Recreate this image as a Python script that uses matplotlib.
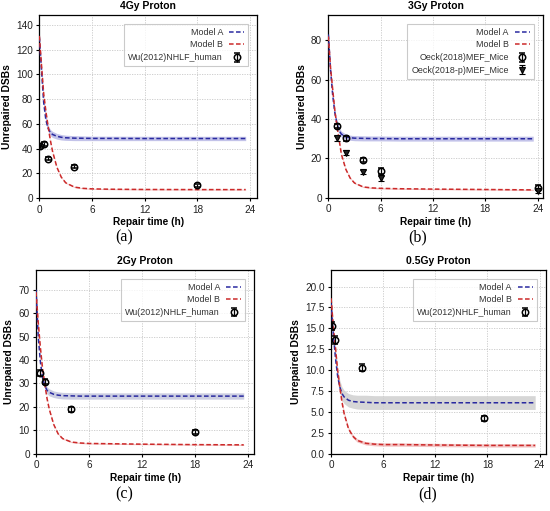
import matplotlib
matplotlib.use("Agg")
import matplotlib.pyplot as plt
from matplotlib.ticker import FormatStrFormatter

plt.rcParams['font.family'] = ['Liberation Sans', 'DejaVu Sans']

# ---- data ----
t_model = [0, 0.25, 0.5, 0.75, 1, 1.25, 1.5, 2, 2.5, 3, 4, 5, 6, 8, 12, 18, 23.5]

# panel a: 4Gy
a_A = [130, 103, 77, 63, 56.5, 53, 51.5, 50, 49.2, 48.8, 48.5, 48.4, 48.3, 48.3, 48.2, 48.2, 48.2]
a_A_lo = [128, 100, 74, 60, 54, 50.5, 49, 47.7, 47.0, 46.7, 46.5, 46.5, 46.5, 46.5, 46.5, 46.5, 46.5]
a_A_hi = [132, 106, 80, 66, 59, 55.5, 54, 52.3, 51.4, 50.9, 50.5, 50.3, 50.1, 50.1, 50.0, 50.0, 50.0]
a_B = [131, 107, 84, 70, 58, 47, 38, 25, 17, 12.5, 9, 8, 7.6, 7.3, 7.1, 7.0, 7.0]
a_B_err = [1.0, 1.0, 1.0, 0.8, 0.8, 0.7, 0.6, 0.5, 0.5, 0.5, 0.4, 0.4, 0.4, 0.4, 0.4, 0.4, 0.4]
a_pts_t = [0.1, 0.5, 1, 4, 18]
a_pts_v = [42, 44, 32, 25.5, 10.5]
a_pts_e = [1.5, 1.5, 1.2, 1.2, 1.2]

# panel b: 3Gy
b_A = [83, 65, 52, 43, 37.5, 34, 32.3, 31, 30.5, 30.3, 30.2, 30.1, 30.1, 30.0, 30.0, 30.0, 30.0]
b_A_lo = [82, 63.5, 50.5, 41.5, 36, 32.5, 30.8, 29.6, 29.2, 29.0, 28.9, 28.9, 28.9, 28.8, 28.8, 28.8, 28.8]
b_A_hi = [84, 66.5, 53.5, 44.5, 39, 35.5, 33.8, 32.4, 31.8, 31.6, 31.5, 31.4, 31.4, 31.3, 31.3, 31.3, 31.3]
b_B = [82, 66, 55, 44, 36, 29, 22, 14.5, 10, 7.5, 5.5, 5.0, 4.8, 4.6, 4.4, 4.2, 4.0]
b_B_err = [0.8, 0.7, 0.6, 0.6, 0.5, 0.5, 0.5, 0.4, 0.4, 0.3, 0.3, 0.3, 0.3, 0.3, 0.3, 0.3, 0.3]
b_pts1_t = [1, 2, 4, 6, 24]
b_pts1_v = [36.5, 30.2, 19.2, 13.8, 5.1]
b_pts1_e = [1.2, 1.2, 1.2, 1.5, 1.2]
b_pts2_t = [1, 2, 4, 6, 24]
b_pts2_v = [30.2, 23.0, 13.2, 9.8, 3.6]
b_pts2_e = [1.2, 1.2, 1.0, 1.2, 1.2]

# panel c: 2Gy
c_A = [70, 50, 39, 32, 29, 27, 26.2, 25.4, 25.0, 24.8, 24.7, 24.6, 24.6, 24.6, 24.6, 24.6, 24.6]
c_A_lo = [69, 48.8, 37.7, 30.6, 27.5, 25.5, 24.7, 24.0, 23.6, 23.4, 23.3, 23.3, 23.3, 23.3, 23.3, 23.3, 23.3]
c_A_hi = [71, 51.2, 40.3, 33.4, 30.5, 28.5, 27.7, 26.8, 26.4, 26.2, 26.1, 26.0, 26.0, 26.0, 26.0, 26.0, 26.0]
c_B = [69, 56, 45, 36, 29.5, 23.5, 19, 12.5, 8.5, 6.5, 5.0, 4.6, 4.4, 4.3, 4.1, 3.9, 3.8]
c_B_err = [0.5, 0.5, 0.5, 0.4, 0.4, 0.4, 0.3, 0.3, 0.3, 0.3, 0.25, 0.25, 0.25, 0.25, 0.25, 0.25, 0.25]
c_pts_t = [0.5, 1, 4, 18]
c_pts_v = [34.4, 30.8, 19.0, 9.4]
c_pts_e = [1.2, 1.0, 1.0, 0.9]

# panel d: 0.5Gy
d_A = [18, 14.3, 11.5, 9.3, 8.0, 7.2, 6.8, 6.4, 6.25, 6.2, 6.15, 6.1, 6.1, 6.1, 6.1, 6.1, 6.1]
d_A_lo = [17.5, 13.6, 10.7, 8.5, 7.2, 6.4, 6.0, 5.6, 5.45, 5.35, 5.3, 5.3, 5.3, 5.3, 5.3, 5.3, 5.3]
d_A_hi = [18.5, 15.0, 12.3, 10.1, 8.8, 8.0, 7.6, 7.2, 7.05, 7.0, 7.0, 6.95, 6.95, 6.95, 6.95, 6.95, 6.95]
d_B = [18.6, 15.3, 12.7, 10.0, 8.0, 6.2, 4.8, 3.0, 2.1, 1.6, 1.25, 1.15, 1.1, 1.1, 1.05, 1.0, 1.0]
d_B_err = [0.3, 0.3, 0.3, 0.3, 0.25, 0.25, 0.25, 0.2, 0.2, 0.2, 0.2, 0.2, 0.2, 0.2, 0.2, 0.2, 0.2]
d_pts_t = [0.1, 0.5, 3.6, 17.6]
d_pts_v = [15.3, 13.6, 10.3, 4.25]
d_pts_e = [0.5, 0.5, 0.45, 0.3]

titles = ["4Gy Proton", "3Gy Proton", "2Gy Proton", "0.5Gy Proton"]
panel_letters = ["(a)", "(b)", "(c)", "(d)"]
xticks = [0, 6, 12, 18, 24]

# ---- style ----
BLUE = "#2a2aa0"
RED = "#cc2a2a"
A_BAND = ["#b9b9e6", "#b9b9e6", "#c4c6dc", "#cfcfcf"]
B_BAND = "#f0b6b6"

fig = plt.figure(figsize=(5.5, 5.11), dpi=100)
positions = [
    [0.0715, 0.612, 0.396, 0.359],
    [0.597, 0.613, 0.390, 0.358],
    [0.0655, 0.112, 0.397, 0.360],
    [0.602, 0.112, 0.390, 0.360],
]
ylims = [(0, 148), (0, 93), (0, 78.5), (0, 22.0)]
yticks = [list(range(0, 141, 20)), list(range(0, 81, 20)), list(range(0, 71, 10)),
          [0, 2.5, 5, 7.5, 10, 12.5, 15, 17.5, 20]]
xmax = [24.8, 24.6, 24.7, 24.7]
label_pos = [(0.225, 0.535), (0.76, 0.535), (0.225, 0.033), (0.778, 0.033)]

A_list = [a_A, b_A, c_A, d_A]
Alo_list = [a_A_lo, b_A_lo, c_A_lo, d_A_lo]
Ahi_list = [a_A_hi, b_A_hi, c_A_hi, d_A_hi]
B_list = [a_B, b_B, c_B, d_B]
Be_list = [a_B_err, b_B_err, c_B_err, d_B_err]

for i in range(4):
    ax = fig.add_axes(positions[i])
    ax.fill_between(t_model, Alo_list[i], Ahi_list[i], color=A_BAND[i], alpha=0.85, lw=0, zorder=1)
    blo = [v - e for v, e in zip(B_list[i], Be_list[i])]
    bhi = [v + e for v, e in zip(B_list[i], Be_list[i])]
    ax.fill_between(t_model, blo, bhi, color=B_BAND, alpha=0.8, lw=0, zorder=1)
    ax.plot(t_model, A_list[i], color=BLUE, ls=(0, (3, 1.6)), lw=1.1, label="Model A", zorder=3)
    ax.plot(t_model, B_list[i], color=RED, ls=(0, (3, 1.6)), lw=1.1, label="Model B", zorder=3)

    ekw = dict(ls='none', ecolor='black', elinewidth=0.9, capsize=2.0, capthick=0.9, zorder=4)
    if i == 0:
        ax.errorbar(a_pts_t, a_pts_v, yerr=a_pts_e, marker='o', ms=4.6, mfc='none', mec='black',
                    mew=1.1, label="Wu(2012)NHLF_human", **ekw)
    elif i == 1:
        ax.errorbar(b_pts1_t, b_pts1_v, yerr=b_pts1_e, marker='o', ms=4.6, mfc='none', mec='black',
                    mew=1.1, label="Oeck(2018)MEF_Mice", **ekw)
        ax.errorbar(b_pts2_t, b_pts2_v, yerr=b_pts2_e, marker='v', ms=4.6, mfc='#222222', mec='black',
                    mew=0.8, label="Oeck(2018-p)MEF_Mice", **ekw)
    elif i == 2:
        ax.errorbar(c_pts_t, c_pts_v, yerr=c_pts_e, marker='o', ms=4.6, mfc='none', mec='black',
                    mew=1.1, label="Wu(2012)NHLF_human", **ekw)
    else:
        ax.errorbar(d_pts_t, d_pts_v, yerr=d_pts_e, marker='o', ms=4.6, mfc='none', mec='black',
                    mew=1.1, label="Wu(2012)NHLF_human", **ekw)

    ax.set_xlim(0, xmax[i])
    ax.set_ylim(*ylims[i])
    ax.set_xticks(xticks)
    ax.set_yticks(yticks[i])
    if i == 3:
        ax.yaxis.set_major_formatter(FormatStrFormatter('%.1f'))
    ax.grid(True, color='#c8c8c8', ls=(0, (1.5, 1.5)), lw=0.6, zorder=0)
    ax.set_axisbelow(True)
    ax.tick_params(direction='out', length=2.5, width=0.8, labelsize=7.2, pad=2,
                   colors='black', labelcolor='#222222')
    for s in ax.spines.values():
        s.set_linewidth(0.9)
        s.set_color('black')
    ax.set_title(titles[i], fontsize=7.5, fontweight='bold', pad=4)
    ax.set_xlabel("Repair time (h)", fontsize=7.3, fontweight='bold', labelpad=2)
    ax.set_ylabel("Unrepaired DSBs", fontsize=7.4, fontweight='bold', labelpad=3)
    leg = ax.legend(loc='upper right', fontsize=6.4, markerfirst=False, handlelength=1.7,
                    frameon=True, fancybox=False, borderpad=0.45, labelspacing=0.42,
                    handletextpad=0.7, borderaxespad=1.0)
    leg.get_frame().set_edgecolor('#bdbdbd')
    leg.get_frame().set_linewidth(0.8)
    for txt in leg.get_texts():
        txt.set_color('#333333')
    fig.text(label_pos[i][0], label_pos[i][1], panel_letters[i], fontsize=11.5,
             family=['Liberation Serif', 'DejaVu Serif'], ha='center', va='center')

fig.savefig("out.png", dpi=100)
